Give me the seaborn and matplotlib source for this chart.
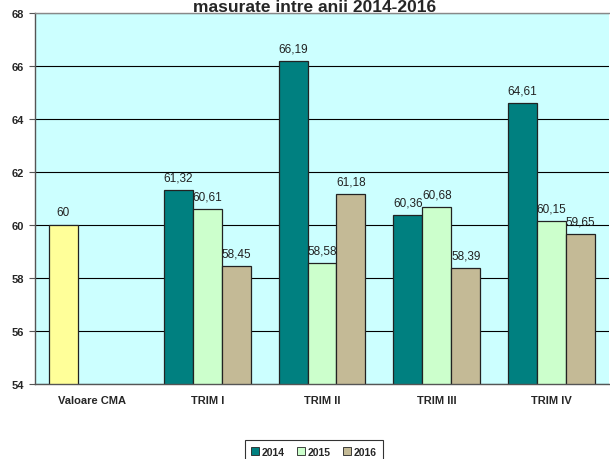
import matplotlib
matplotlib.use("Agg")
import matplotlib.pyplot as plt
import seaborn as sns
import pandas as pd
import numpy as np
from matplotlib.patches import Patch

categories = ["Valoare CMA", "TRIM I", "TRIM II", "TRIM III", "TRIM IV"]
years = ["2014", "2015", "2016"]
v2014 = [60, 61.32, 66.19, 60.36, 64.61]
v2015 = [np.nan, 60.61, 58.58, 60.68, 60.15]
v2016 = [np.nan, 58.45, 61.18, 58.39, 59.65]
title = "masurate intre anii 2014-2016"

colors = {"2014": "#008080", "2015": "#CCFFCC", "2016": "#C4BA96"}
cma_color = "#FFFF99"

rows = []
for yr, vals in zip(years, [v2014, v2015, v2016]):
    for c, v in zip(categories, vals):
        rows.append({"cat": c, "year": yr, "val": v})
df = pd.DataFrame(rows)

sns.set_style("white")
plt.rcParams["font.family"] = ["Liberation Sans", "DejaVu Sans"]

fig = plt.figure(figsize=(6.1, 4.6), dpi=100)
ax = fig.add_axes([35/610, 75/460, 574/610, 371/460])
ax.set_facecolor("#CCFFFF")

sns.barplot(data=df, x="cat", y="val", hue="year", order=categories,
            hue_order=years, palette=colors, ax=ax, width=0.757,
            edgecolor="#222222", linewidth=0.9, legend=False, errorbar=None,
            saturation=1)

ax.containers[0][0].set_facecolor(cma_color)

ax.set_ylim(54, 68)
ax.set_yticks(range(54, 69, 2))
ax.set_xlim(-0.5, len(categories) - 0.5)
ax.yaxis.grid(True, color="#000000", linewidth=0.8)
ax.set_axisbelow(True)
ax.set_xlabel("")
ax.set_ylabel("")

for cont in ax.containers:
    for bar in cont:
        h = bar.get_height()
        if np.isnan(h) or h == 0:
            continue
        txt = f"{h:.2f}".replace(".", ",") if abs(h - round(h)) > 1e-9 else f"{int(round(h))}"
        ax.text(bar.get_x() + bar.get_width() / 2, h + 0.25, txt,
                ha="center", va="bottom", fontsize=8.5, color="#222222")

for lbl in ax.get_yticklabels():
    lbl.set_fontweight("bold")
ax.tick_params(axis="y", labelsize=8, length=4, width=0.8, color="#555555",
               direction="out", left=True, pad=4)
ax.set_xticks(range(len(categories)))
ax.set_xticklabels(categories, fontsize=8, fontweight="bold")
ax.tick_params(axis="x", length=0, pad=8)
ax.set_xticks(np.arange(-0.5, len(categories), 1), minor=True)
ax.tick_params(axis="x", which="minor", length=5, width=0.8, color="#555555", direction="out")

for s in ["left", "bottom"]:
    ax.spines[s].set_color("#555555")
    ax.spines[s].set_linewidth(1.0)
ax.spines["top"].set_color("#888888")
ax.spines["top"].set_linewidth(1.0)
ax.spines["right"].set_visible(False)

fig.text(315/610, 1 - 12/460, title, ha="center", va="baseline",
         fontsize=12.5, fontweight="bold")

handles = [Patch(facecolor=colors[y], edgecolor="#222222", linewidth=0.6, label=y) for y in years]
leg = fig.legend(handles=handles, loc="lower center", bbox_to_anchor=(314/610, -9/460),
                 ncol=3, frameon=True, fancybox=False, prop={"size": 7.5, "weight": "bold"},
                 handlelength=0.7, handleheight=0.7, handletextpad=0.3, columnspacing=1.2,
                 borderpad=0.6)
leg.get_frame().set_edgecolor("#000000")
leg.get_frame().set_linewidth(0.8)

fig.savefig("out.png", dpi=100)
